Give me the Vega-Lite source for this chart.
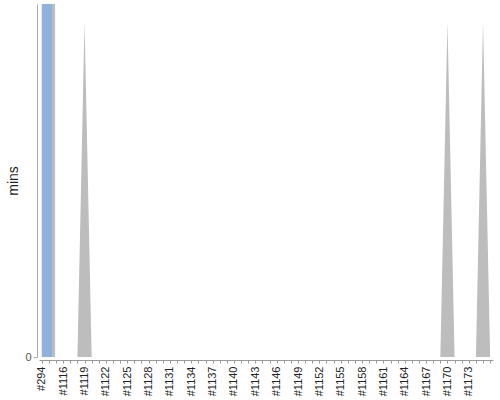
{
  "$schema": "https://vega.github.io/schema/vega-lite/v6.json",
  "width": 454,
  "height": 353,
  "autosize": "none",
  "padding": {"left": 39, "top": 4, "right": 7, "bottom": 43},
  "config": {
    "view": {"stroke": null},
    "font": "Liberation Sans"
  },
  "datasets": {
    "builds": [
      {"build": "#294", "mins": 0},
      {"build": "#1114", "mins": 0},
      {"build": "#1115", "mins": 0},
      {"build": "#1116", "mins": 0},
      {"build": "#1117", "mins": 0},
      {"build": "#1118", "mins": 0},
      {"build": "#1119", "mins": 19},
      {"build": "#1120", "mins": 0},
      {"build": "#1121", "mins": 0},
      {"build": "#1122", "mins": 0},
      {"build": "#1123", "mins": 0},
      {"build": "#1124", "mins": 0},
      {"build": "#1125", "mins": 0},
      {"build": "#1126", "mins": 0},
      {"build": "#1127", "mins": 0},
      {"build": "#1128", "mins": 0},
      {"build": "#1129", "mins": 0},
      {"build": "#1130", "mins": 0},
      {"build": "#1131", "mins": 0},
      {"build": "#1132", "mins": 0},
      {"build": "#1133", "mins": 0},
      {"build": "#1134", "mins": 0},
      {"build": "#1135", "mins": 0},
      {"build": "#1136", "mins": 0},
      {"build": "#1137", "mins": 0},
      {"build": "#1138", "mins": 0},
      {"build": "#1139", "mins": 0},
      {"build": "#1140", "mins": 0},
      {"build": "#1141", "mins": 0},
      {"build": "#1142", "mins": 0},
      {"build": "#1143", "mins": 0},
      {"build": "#1144", "mins": 0},
      {"build": "#1145", "mins": 0},
      {"build": "#1146", "mins": 0},
      {"build": "#1147", "mins": 0},
      {"build": "#1148", "mins": 0},
      {"build": "#1149", "mins": 0},
      {"build": "#1150", "mins": 0},
      {"build": "#1151", "mins": 0},
      {"build": "#1152", "mins": 0},
      {"build": "#1153", "mins": 0},
      {"build": "#1154", "mins": 0},
      {"build": "#1155", "mins": 0},
      {"build": "#1156", "mins": 0},
      {"build": "#1157", "mins": 0},
      {"build": "#1158", "mins": 0},
      {"build": "#1159", "mins": 0},
      {"build": "#1160", "mins": 0},
      {"build": "#1161", "mins": 0},
      {"build": "#1162", "mins": 0},
      {"build": "#1163", "mins": 0},
      {"build": "#1164", "mins": 0},
      {"build": "#1165", "mins": 0},
      {"build": "#1166", "mins": 0},
      {"build": "#1167", "mins": 0},
      {"build": "#1168", "mins": 0},
      {"build": "#1169", "mins": 0},
      {"build": "#1170", "mins": 19},
      {"build": "#1171", "mins": 0},
      {"build": "#1172", "mins": 0},
      {"build": "#1173", "mins": 0},
      {"build": "#1174", "mins": 0},
      {"build": "#1175", "mins": 19},
      {"build": "#1176", "mins": 0}
    ],
    "current": [
      {"from": "#294", "to": "#1115", "mins": 20, "part": "total"},
      {"from": "#294", "to": "#1114", "mins": 20, "part": "running"}
    ]
  },
  "layer": [
    {
      "data": {"name": "builds"},
      "mark": {"type": "area", "color": "#bdbdbd", "clip": true},
      "encoding": {
        "x": {
          "field": "build",
          "type": "nominal",
          "sort": null,
          "scale": {"type": "point", "padding": 0.4},
          "axis": {
            "title": null,
            "labelAngle": -90,
            "labelFontSize": 11,
            "labelColor": "#222",
            "labelPadding": 3,
            "tickSize": 3,
            "tickColor": "#999",
            "domainColor": "#999",
            "offset": 3,
            "labelExpr": "indexof(['#294','#1116','#1119','#1122','#1125','#1128','#1131','#1134','#1137','#1140','#1143','#1146','#1149','#1152','#1155','#1158','#1161','#1164','#1167','#1170','#1173'], datum.value) >= 0 ? datum.value : ''"
          }
        },
        "y": {
          "field": "mins",
          "type": "quantitative",
          "scale": {"domain": [0, 20]},
          "axis": {
            "title": "mins",
            "titleFontSize": 14,
            "titleFontWeight": "normal",
            "titleColor": "#222",
            "titlePadding": 4,
            "values": [0],
            "labelFontSize": 11,
            "labelColor": "#555",
            "grid": false,
            "tickSize": 4,
            "tickColor": "#aaa",
            "domainColor": "#aaa",
            "offset": 2
          }
        }
      }
    },
    {
      "data": {"name": "current"},
      "transform": [{"filter": "datum.part === 'total'"}],
      "mark": {"type": "rect", "clip": true, "color": "#bdbdbd", "x2Offset": -1},
      "encoding": {
        "x": {"field": "from", "type": "nominal", "sort": null},
        "x2": {"field": "to"},
        "y": {"field": "mins", "type": "quantitative"},
        "y2": {"datum": 0}
      }
    },
    {
      "data": {"name": "current"},
      "transform": [{"filter": "datum.part === 'running'"}],
      "mark": {"type": "rect", "clip": true, "color": "#8fb1dc", "x2Offset": 3},
      "encoding": {
        "x": {"field": "from", "type": "nominal", "sort": null},
        "x2": {"field": "to"},
        "y": {"field": "mins", "type": "quantitative"},
        "y2": {"datum": 0}
      }
    }
  ]
}
